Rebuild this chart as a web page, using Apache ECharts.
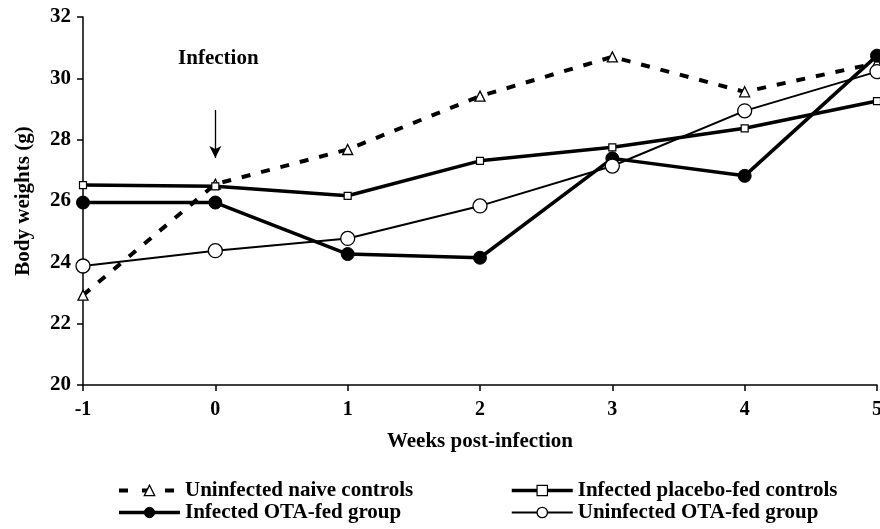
<!DOCTYPE html>
<html>
<head>
<meta charset="utf-8">
<script src="https://cdn.jsdelivr.net/npm/echarts@6/dist/echarts.min.js"></script>
<style>html,body{margin:0;padding:0;background:#fff}#c{width:880px;height:529px}</style>
</head>
<body>
<div id="c"></div>
<script>
const weeks = [-1, 0, 1, 2, 3, 4, 5];
const naiveControls = [22.93, 26.55, 27.68, 29.42, 30.70, 29.56, 30.50];
const placeboControls = [26.52, 26.48, 26.17, 27.31, 27.75, 28.37, 29.26];
const otaInfected = [25.95, 25.95, 24.27, 24.15, 27.39, 26.82, 30.74];
const otaUninfected = [23.88, 24.38, 24.78, 25.84, 27.14, 28.94, 30.22];
const yTicks = [20, 22, 24, 26, 28, 30, 32];
const xTicks = [-1, 0, 1, 2, 3, 4, 5];

const FONT = '"Liberation Serif", "Times New Roman", serif';
const pairs = arr => weeks.map((w, i) => [w, arr[i]]);

const chart = echarts.init(document.getElementById('c'), null, {renderer: 'canvas'});
const series = [
  {
    name: 'Uninfected naive controls', type: 'line', data: pairs(naiveControls),
    symbol: 'triangle', symbolSize: 10, z: 2,
    lineStyle: {color: '#000', width: 4, type: [9, 11]},
    itemStyle: {color: '#fff', borderColor: '#000', borderWidth: 1.3}
  },
  {
    name: 'Infected placebo-fed controls', type: 'line', data: pairs(placeboControls),
    symbol: 'rect', symbolSize: 7, z: 3,
    lineStyle: {color: '#000', width: 3.5},
    itemStyle: {color: '#fff', borderColor: '#000', borderWidth: 1.2}
  },
  {
    name: 'Infected OTA-fed group', type: 'line', data: pairs(otaInfected),
    symbol: 'circle', symbolSize: 13, z: 4,
    lineStyle: {color: '#000', width: 3.5},
    itemStyle: {color: '#000', borderColor: '#000', borderWidth: 1}
  },
  {
    name: 'Uninfected OTA-fed group', type: 'line', data: pairs(otaUninfected),
    symbol: 'circle', symbolSize: 14, z: 5,
    lineStyle: {color: '#000', width: 2},
    itemStyle: {color: '#fff', borderColor: '#000', borderWidth: 1.3},
    markLine: {
      silent: true, symbol: ['none', 'arrow'], symbolSize: [9, 12],
      lineStyle: {color: '#000', width: 1.3, type: 'solid'},
      label: {show: false},
      data: [[{coord: [0, 28.97]}, {coord: [0, 27.40]}]]
    }
  }
];
series.forEach(s => { s.showSymbol = true; s.clip = false; s.animation = false; s.emphasis = {disabled: true}; });

const legendItemStyle = {
  'Uninfected naive controls': {lineStyle: {color: '#000', width: 4, type: [9, 14]}, itemStyle: {color: '#fff', borderColor: '#000', borderWidth: 1.3}},
  'Infected placebo-fed controls': {lineStyle: {color: '#000', width: 3.5}, itemStyle: {color: '#fff', borderColor: '#000', borderWidth: 1.2}},
  'Infected OTA-fed group': {lineStyle: {color: '#000', width: 3.5}, itemStyle: {color: '#000', borderColor: '#000', borderWidth: 1}},
  'Uninfected OTA-fed group': {lineStyle: {color: '#000', width: 2}, itemStyle: {color: '#fff', borderColor: '#000', borderWidth: 1.3}}
};

function makeLegend(left, names) {
  return {
    orient: 'vertical', left: left, top: 480, padding: 0,
    itemWidth: 61, itemHeight: 13, itemGap: 1,
    textStyle: {fontFamily: FONT, fontWeight: 'bold', fontSize: 21, lineHeight: 21, color: '#000'},
    selectedMode: false,
    data: names.map(n => Object.assign({name: n}, legendItemStyle[n]))
  };
}

chart.setOption({
  animation: false,
  backgroundColor: '#fff',
  grid: {left: 83, right: 3, top: 17, bottom: 144, containLabel: false, outerBoundsMode: 'none'},
  xAxis: {
    type: 'value', min: -1, max: 5, interval: 1,
    name: 'Weeks post-infection', nameLocation: 'middle', nameGap: 46,
    nameTextStyle: {fontFamily: FONT, fontWeight: 'bold', fontSize: 21, color: '#000'},
    axisLine: {show: true, onZero: false, lineStyle: {color: '#000', width: 1.5}},
    axisTick: {show: true, length: 6, inside: false, lineStyle: {color: '#000', width: 1.5}},
    axisLabel: {fontFamily: FONT, fontWeight: 'bold', fontSize: 20, color: '#000', margin: 15,
      formatter: v => xTicks.includes(v) ? String(v) : ''},
    splitLine: {show: false}
  },
  yAxis: {
    type: 'value', min: 20, max: 32, interval: 2,
    name: 'Body weights (g)', nameLocation: 'middle', nameGap: 49, nameRotate: 90,
    nameTextStyle: {fontFamily: FONT, fontWeight: 'bold', fontSize: 21, color: '#000'},
    axisLine: {show: true, onZero: false, lineStyle: {color: '#000', width: 1.5}},
    axisTick: {show: true, length: 6, lineStyle: {color: '#000', width: 1.5}},
    axisLabel: {fontFamily: FONT, fontWeight: 'bold', fontSize: 21, color: '#000', margin: 12,
      formatter: v => yTicks.includes(v) ? String(v) : ''},
    splitLine: {show: false}
  },
  legend: [
    makeLegend(117, ['Uninfected naive controls', 'Infected OTA-fed group']),
    makeLegend(510, ['Infected placebo-fed controls', 'Uninfected OTA-fed group'])
  ],
  series: series
});

const p = chart.convertToPixel({gridIndex: 0}, [0, 30.66]);
chart.setOption({
  graphic: [{
    type: 'text', x: p[0] + 3, y: p[1], silent: true,
    style: {text: 'Infection', fontFamily: FONT, fontWeight: 'bold', fontSize: 21, fill: '#000',
      align: 'center', verticalAlign: 'middle'}
  }]
});
</script>
</body>
</html>
